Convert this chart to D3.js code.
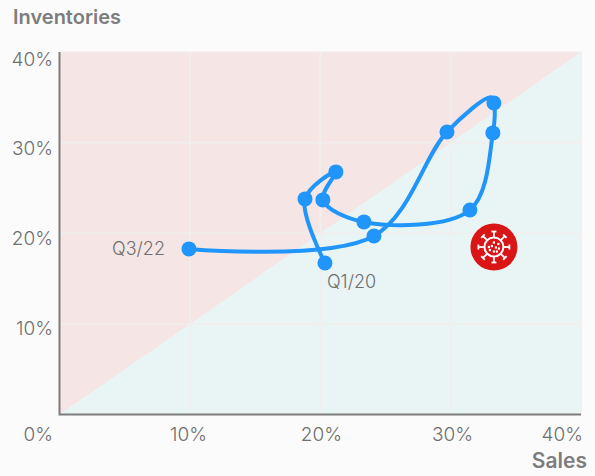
<!DOCTYPE html>
<html><head><meta charset="utf-8">
<script src="https://cdn.jsdelivr.net/npm/d3@7"></script>
<style>html,body{margin:0;padding:0;background:#fbfbfb}svg{display:block}text{font-family:Inter,Lato,sans-serif;fill:#7d7d7d}.l{fill:#6f6f6f}</style>
</head><body><svg id="c" width="595" height="476"></svg>
<script>
const salesValues=[20.36,18.83,21.2,20.2,23.35,31.48,33.24,33.32,29.72,24.12,9.93];
const inventoryValues=[16.72,23.79,26.77,23.68,21.25,22.57,31.07,34.38,31.18,19.7,18.27];
const curveSales=[20.36,18.83,21.2,20.2,23.35,31.48,33.24,33.32,33.1,29.72,24.12,9.93];
const curveInventories=[16.72,23.79,26.77,23.68,21.25,22.57,31.07,34.38,35.0,31.18,19.7,18.27];
const tickValues=[0,10,20,30,40];
const pointLabels=[{i:0,text:"Q1/20",dx:2,dy:25,anchor:"start"},{i:10,text:"Q3/22",dx:-24,dy:6,anchor:"end"}];
const virusAt=[33.32,18.48];
const svg=d3.select("#c");
const x=d3.scaleLinear().domain([0,40]).range([59.5,581]);
const y=d3.scaleLinear().domain([0,40]).range([414.5,52]);
const yLabel=d3.scaleLinear().domain([10,40]).range([334.5,65.5]);
const xLabelRight={0:53,10:207,20:342,30:473,40:583};
svg.append("rect").attr("x",x(0)).attr("y",y(40)).attr("width",x(40)-x(0)).attr("height",y(0)-y(40)).attr("fill","#e9f4f4");
svg.append("path").attr("d",d3.line()([[x(0),y(0)],[x(0),y(40)],[x(40),y(40)]])+"Z").attr("fill","#f6e5e5");
const grid=svg.append("g").attr("stroke","#f1eeee").attr("stroke-width",1.6);
tickValues.slice(1).forEach(t=>{
 grid.append("line").attr("x1",x(t)).attr("x2",x(t)).attr("y1",y(0)).attr("y2",y(40));
 grid.append("line").attr("x1",x(0)).attr("x2",x(40)).attr("y1",y(t)).attr("y2",y(t));
});
svg.append("path").attr("d",d3.line()([[x(0),y(40)],[x(0),y(0)],[x(40),y(0)]])).attr("fill","none").attr("stroke","#7d7d7d").attr("stroke-width",2);
const yl=svg.append("g").attr("font-size",19).attr("font-weight",300).attr("text-anchor","end");
tickValues.slice(1).forEach(t=>yl.append("text").attr("class","l").attr("x",53).attr("y",yLabel(t)).text(t+"%"));
const xl=svg.append("g").attr("font-size",19).attr("font-weight",300).attr("text-anchor","end");
tickValues.forEach(t=>xl.append("text").attr("class","l").attr("x",xLabelRight[t]).attr("y",441).text(t+"%"));
svg.append("text").attr("x",13).attr("y",24).attr("font-size",20).attr("font-weight",600).text("Inventories");
svg.append("text").attr("x",587).attr("y",468).attr("text-anchor","end").attr("font-size",21).attr("font-weight",600).text("Sales");
const pts=salesValues.map((s,i)=>[x(s),y(inventoryValues[i])]);
const cpts=curveSales.map((s,i)=>[x(s),y(curveInventories[i])]);
svg.append("path").attr("d",d3.line().curve(d3.curveCatmullRom.alpha(0.5))(cpts)).attr("fill","none").attr("stroke","#2095fb").attr("stroke-width",4);
svg.append("g").selectAll("circle").data(pts).join("circle").attr("cx",d=>d[0]).attr("cy",d=>d[1]).attr("r",7.5).attr("fill","#2095fb");
pointLabels.forEach(l=>svg.append("text").attr("class","l").attr("x",pts[l.i][0]+l.dx).attr("y",pts[l.i][1]+l.dy).attr("text-anchor",l.anchor).attr("font-size",18).attr("font-weight",300).text(l.text));
const v=svg.append("g").attr("transform",`translate(${x(virusAt[0])},${y(virusAt[1])})`);
v.append("circle").attr("r",23.5).attr("fill","#d91516");
v.append("circle").attr("r",9.5).attr("fill","none").attr("stroke","#fff").attr("stroke-width",2);
d3.range(8).forEach(i=>{
 const g=v.append("g").attr("transform",`rotate(${i*45})`).attr("stroke","#fff").attr("stroke-width",1.8);
 g.append("line").attr("x1",0).attr("x2",0).attr("y1",-10).attr("y2",-15.5);
 g.append("line").attr("x1",-2.5).attr("x2",2.5).attr("y1",-15.5).attr("y2",-15.5);
});
[[-5,0],[0,-4.5],[4.5,-3],[-2,-1],[2,0.5],[5,1.5],[-4,3],[0,4.5],[3,4.5]].forEach(d=>v.append("rect").attr("x",d[0]-1.1).attr("y",d[1]-1.1).attr("width",2.2).attr("height",2.2).attr("fill","#fff"));
</script></body></html>
